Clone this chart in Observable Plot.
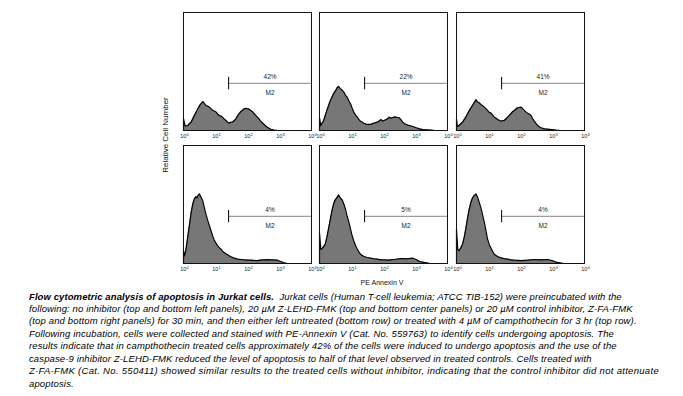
<!DOCTYPE html>
<html>
<head>
<meta charset="utf-8">
<script src="https://cdn.jsdelivr.net/npm/d3@7"></script>
<script src="https://cdn.jsdelivr.net/npm/@observablehq/plot@0.6"></script>
<style>
  html, body { margin: 0; padding: 0; background: #fff; }
  #fig { position: relative; width: 683px; height: 396px; overflow: hidden; font-family: "Liberation Sans", Arial, sans-serif; }
  .panel { position: absolute; }
  .ylab { position: absolute; left: 165px; top: 135px; font-size: 8px; white-space: nowrap; transform: translate(-50%, -50%) rotate(-90deg); color: #111; }
  .xlab { position: absolute; left: 382px; top: 282px; font-size: 7px; white-space: nowrap; transform: translate(-50%, -50%); color: #111; }
  #caption { position: absolute; left: 29px; top: 290.5px; font-size: 9.5px; font-style: italic; line-height: 12.45px; color: #000; }
  #caption .line { display: block; white-space: pre; height: 12.45px; }
  #caption b { font-weight: bold; }
</style>
</head>
<body>
<div id="fig">
  <div class="ylab">Relative Cell Number</div>
  <div class="xlab">PE Annexin V</div>
  <div id="caption"></div>
</div>
<script>
// Tick values (log scale, PE Annexin V intensity)
const tickValues = [1, 10, 100, 1000, 10000];
const tickExponents = ["0", "1", "2", "3", "4"];

// Gate marker M2
const gateLabel = "M2";
const gateStartDecade = 1.41;
const gateLevel = 40;

// Panel percentages (top row: camptothecin treated; bottom row: untreated)
const panelPercents = ["42%", "22%", "41%", "4%", "5%", "4%"];

// Histogram readings: log10(PE Annexin V) and relative cell count (% of panel height)
const topLeftLog = [0,0,0.05,0.135,0.19,0.24,0.34,0.45,0.5,0.55,0.6,0.62,0.66,0.7,0.76,0.81,0.86,0.91,0.96,1.02,1.07,1.12,1.17,1.22,1.28,1.33,1.38,1.43,1.48,1.53,1.58,1.64,1.69,1.74,1.79,1.84,1.9,1.95,2.0,2.03,2.1,2.16,2.21,2.26,2.31,2.36,2.41,2.47,2.52,2.57,2.62,2.68,2.73,2.83,2.95,4];
const topLeftCount = [0,10,4,4.2,6,7.1,12.7,18.4,21,22.7,24.5,24.1,22.5,21.2,20.5,19.8,18.5,17,16.5,15.6,13.8,12.7,12.2,11.3,9.5,8.5,7,6.2,7,7.1,8.2,9.9,12.5,14.2,16,17,18.4,18.8,18.2,18.4,17,15.8,14.2,12.8,11.3,9.8,7.9,6.4,5.1,3.8,2.8,1.8,1.1,0.3,0,0];

const topCenterLog = [0,0,0.04,0.13,0.23,0.34,0.44,0.5,0.55,0.6,0.65,0.7,0.76,0.81,0.86,0.92,0.97,1.02,1.07,1.13,1.18,1.23,1.28,1.34,1.39,1.44,1.49,1.55,1.6,1.65,1.71,1.76,1.81,1.87,1.92,1.97,2.02,2.07,2.13,2.18,2.23,2.28,2.34,2.39,2.44,2.49,2.55,2.6,2.65,2.71,2.76,2.81,2.87,2.92,3.02,3.13,3.23,3.34,3.49,3.6,4];
const topCenterCount = [0,10.8,4.2,8.5,17,25.5,31.2,33.5,36.3,37.4,35.4,34.5,32.6,30,28.3,25,22.7,19,15.6,13,11.3,9.5,7.9,7,6.2,5.6,5.1,5.3,5.1,5.8,6.2,6.8,7.1,8,9.3,7.9,8.5,9.1,10,11.3,10.5,10.8,11.5,11.3,11,10.8,9,7.1,6,5.1,4.6,4.2,3.8,3.4,2.3,1.4,0.8,0.6,0.3,0,0];

const topRightLog = [0,0,0.03,0.08,0.19,0.29,0.4,0.5,0.56,0.61,0.66,0.71,0.76,0.82,0.87,0.92,0.97,1.02,1.08,1.13,1.18,1.23,1.28,1.34,1.39,1.44,1.49,1.55,1.6,1.65,1.7,1.75,1.81,1.86,1.91,1.96,2.02,2.07,2.12,2.17,2.22,2.28,2.33,2.38,2.43,2.49,2.54,2.59,2.64,2.75,2.85,2.96,3.11,3.25,4];
const topRightCount = [0,9.9,3.4,4.2,7.1,11.3,17,21.2,24,26.1,24.1,23.5,22.1,21,19.8,18.5,17,15.5,14.7,13,11.3,10.5,9.6,8.5,7.9,8.3,8.5,10,11.3,12.8,14.2,15.8,17,18.2,19.3,19.5,19.8,18.5,17,15.8,14.7,13.8,12.7,10.2,7.9,5.8,4.2,3.1,2.3,1.4,1.1,0.8,0.3,0,0];

const bottomLeftLog = [0,0,0.03,0.08,0.13,0.19,0.24,0.29,0.34,0.39,0.42,0.45,0.5,0.55,0.6,0.65,0.7,0.76,0.81,0.86,0.91,0.96,1.02,1.07,1.12,1.17,1.22,1.27,1.33,1.38,1.43,1.48,1.54,1.59,1.64,1.69,1.8,1.9,2.0,2.1,2.2,2.31,2.41,2.52,2.62,2.73,2.83,2.93,3.04,3.14,3.25,4];
const bottomLeftCount = [0,10.8,6.5,12.2,22.1,33.4,43.3,50.4,54.7,56.7,55.5,57.5,58.9,56.1,53.3,47.6,41.9,36.3,32,27.8,23.5,19.8,17,15,13.5,12.2,10.5,9.3,8.2,7.4,6.5,5.7,5,4.5,4.1,3.7,3.4,3.1,2.9,2.8,2.6,2.5,2.9,3.1,3.2,3.1,3.0,2.8,1.7,0.6,0,0];

const bottomCenterLog = [0,0,0.04,0.07,0.13,0.18,0.23,0.28,0.34,0.39,0.44,0.49,0.55,0.6,0.65,0.71,0.76,0.81,0.86,0.92,0.97,1.02,1.07,1.13,1.18,1.23,1.28,1.39,1.49,1.6,1.71,1.81,1.92,2.03,2.13,2.24,2.34,2.45,2.55,2.66,2.76,2.84,2.92,3.02,3.13,3.23,3.34,3.45,4];
const bottomCenterCount = [0,26.3,12.2,12.2,14.2,16.4,22.1,29.2,37.7,44.8,50.4,53.8,56.1,58.1,55.5,53.8,50.4,46.2,40.5,34.8,29.2,23.5,19.3,15,12.2,9.9,7.9,5.9,5.1,4.5,4,3.7,3.1,3,2.8,3.1,3.4,3.8,4.2,4.1,4,4.3,4.5,3.4,1.7,1.1,0.6,0,0];

const bottomRightLog = [0,0,0.04,0.08,0.14,0.19,0.24,0.29,0.34,0.4,0.45,0.5,0.55,0.61,0.66,0.71,0.76,0.81,0.87,0.92,0.97,1.02,1.08,1.13,1.18,1.28,1.39,1.49,1.6,1.7,1.81,2.02,2.22,2.43,2.64,2.85,3.01,3.11,3.22,3.35,4];
const bottomRightCount = [0,29.2,12,10.8,13.6,16.4,22.1,29.2,37.7,46.2,51.8,55.5,57.5,58.9,56.1,51.8,47.6,41.9,34.8,27.8,20.7,16.4,13,10.2,7.9,5.9,4.8,4.2,3.7,3.1,2.8,2.5,2.8,3.4,3.1,3.4,2.3,1.1,0.6,0,0];

// Caption
const captionTitle = "Flow cytometric analysis of apoptosis in Jurkat cells.";
const captionLines = [
  "  Jurkat cells (Human T-cell leukemia; ATCC TIB-152) were preincubated with the",
  "following: no inhibitor (top and bottom left panels), 20 µM Z-LEHD-FMK (top and bottom center panels) or 20 µM control inhibitor, Z-FA-FMK",
  "(top and bottom right panels) for 30 min, and then either left untreated (bottom row) or treated with 4 µM of campthothecin for 3 hr (top row).",
  "Following incubation, cells were collected and stained with PE-Annexin V (Cat. No. 559763) to identify cells undergoing apoptosis. The",
  "results indicate that in campthothecin treated cells approximately 42% of the cells were induced to undergo apoptosis and the use of the",
  "caspase-9 inhibitor Z-LEHD-FMK reduced the level of apoptosis to half of that level observed in treated controls. Cells treated with",
  "Z-FA-FMK (Cat. No. 550411) showed similar results to the treated cells without inhibitor, indicating that the control inhibitor did not attenuate",
  "apoptosis."
];
// right edge (px) of each caption line in the reference layout
const captionLineEnds = [621.7, 632.7, 636.7, 614, 616.7, 591.7, 659, null];

const panels = [
  {log: topLeftLog, count: topLeftCount, pct: panelPercents[0], left: 174.5, top: 10.3},
  {log: topCenterLog, count: topCenterCount, pct: panelPercents[1], left: 311, top: 10.3},
  {log: topRightLog, count: topRightCount, pct: panelPercents[2], left: 447.5, top: 10.3},
  {log: bottomLeftLog, count: bottomLeftCount, pct: panelPercents[3], left: 174.5, top: 143},
  {log: bottomCenterLog, count: bottomCenterCount, pct: panelPercents[4], left: 311, top: 143},
  {log: bottomRightLog, count: bottomRightCount, pct: panelPercents[5], left: 447.5, top: 143}
];

const fig = document.getElementById("fig");
const gateStart = 10 ** gateStartDecade;
const labelX = 10 ** ((gateStartDecade + 4) / 2);
const SVGNS = "http://www.w3.org/2000/svg";

for (const p of panels) {
  const data = p.log.map((d, i) => ({x: 10 ** d, y: p.count[i]}));
  const chart = Plot.plot({
    width: 144,
    height: 136,
    marginLeft: 8,
    marginRight: 8,
    marginTop: 2,
    marginBottom: 16,
    x: {type: "log", domain: [1, 10000], ticks: tickValues, tickFormat: (d) => "10^" + tickExponents[tickValues.indexOf(d)], tickSize: 0, tickPadding: 4, label: null},
    y: {domain: [0, 100], axis: null},
    style: {fontFamily: "'Liberation Sans', Arial, sans-serif", fontSize: "5.5px", color: "#222", background: "transparent", overflow: "visible"},
    marks: [
      Plot.areaY(data, {x: "x", y: "y", fill: "#777777"}),
      Plot.lineY(data, {x: "x", y: "y", stroke: "#000", strokeWidth: 1.2}),
      Plot.ruleY([gateLevel], {x1: gateStart, x2: 10000, stroke: "#666", strokeWidth: 0.8}),
      Plot.ruleX([gateStart], {y1: gateLevel - 5.5, y2: gateLevel + 5, stroke: "#000", strokeWidth: 1}),
      Plot.text([p.pct], {x: labelX, y: gateLevel + 5.5, text: (d) => d, fontSize: 6.5, fill: "#222"}),
      Plot.text([gateLabel], {x: labelX, y: gateLevel - 8.5, text: (d) => d, fontSize: 6.5, fill: "#222"}),
      Plot.frame({stroke: "#111", strokeWidth: 1})
    ]
  });
  // turn "10^k" tick labels into 10 with a superscript exponent
  chart.querySelectorAll("text").forEach((t) => {
    const m = /^10\^(\d)$/.exec(t.textContent);
    if (!m) return;
    t.textContent = "10";
    const sup = document.createElementNS(SVGNS, "tspan");
    sup.setAttribute("dy", "-2");
    sup.setAttribute("font-size", "4");
    sup.textContent = m[1];
    t.appendChild(sup);
    t.setAttribute("text-anchor", "start");
    t.setAttribute("dx", "-3.2");
  });
  chart.classList.add("panel");
  chart.style.left = p.left + "px";
  chart.style.top = p.top + "px";
  fig.appendChild(chart);
}

// Caption, with each line fitted to its width in the reference
const cap = document.getElementById("caption");
const spans = [];
captionLines.forEach((line, i) => {
  const div = document.createElement("div");
  div.className = "line";
  const span = document.createElement("span");
  if (i === 0) {
    const b = document.createElement("b");
    b.textContent = captionTitle;
    span.appendChild(b);
  }
  span.appendChild(document.createTextNode(line));
  div.appendChild(span);
  cap.appendChild(div);
  spans.push(span);
});
const left = 29;
let spacings = [];
spans.forEach((span, i) => {
  const end = captionLineEnds[i];
  if (end == null) return;
  const w = span.getBoundingClientRect().width;
  const n = span.textContent.length;
  const ls = (end - left - w) / n;
  span.style.letterSpacing = ls + "px";
  spacings.push(ls);
});
const avg = spacings.reduce((a, b) => a + b, 0) / spacings.length;
spans.forEach((span, i) => { if (captionLineEnds[i] == null) span.style.letterSpacing = avg + "px"; });
</script>
</body>
</html>
